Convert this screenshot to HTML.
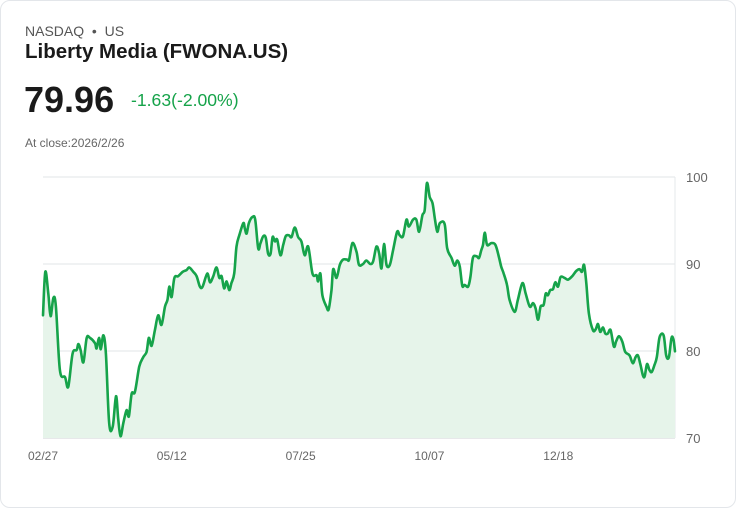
<!DOCTYPE html>
<html><head><meta charset="utf-8"><style>
html,body{margin:0;padding:0;background:#fff;}
body{width:736px;height:508px;position:relative;overflow:hidden;font-family:"Liberation Sans",sans-serif;}
.card{position:absolute;left:0;top:0;width:734px;height:506px;border:1px solid #e3e6ea;border-radius:10px;}
.t{position:absolute;white-space:nowrap;}
</style></head><body>
<div class="card"></div>
<div class="t" style="left:25px;top:23px;font-size:14px;color:#555;">NASDAQ &nbsp;•&nbsp; US</div>
<div class="t" style="left:25px;top:40px;font-size:20.5px;font-weight:bold;color:#1a1a1a;">Liberty Media (FWONA.US)</div>
<div class="t" style="left:24px;top:79px;font-size:36px;font-weight:bold;color:#1a1a1a;">79.96</div>
<div class="t" style="left:131px;top:90px;font-size:17.6px;color:#16a34a;">-1.63(-2.00%)</div>
<div class="t" style="left:25px;top:136px;font-size:12px;color:#666;">At close:2026/2/26</div>
<svg id="chart" width="736" height="508" style="position:absolute;left:0;top:0;"></svg>
<script>
const days=[0,0.9,2.1,3.0,4.1,5.1,6.7,8.7,10.0,11.7,13.3,14.0,14.9,16.0,17.3,18.6,20.6,21.2,22.2,22.9,23.9,24.9,26.2,27.6,28.9,29.8,30.7,31.8,33.1,34.0,35.1,36.4,38.1,39.7,41.0,41.9,43.0,44.3,45.6,46.9,48.3,49.3,50.0,50.9,52.0,53.5,55.3,56.8,57.9,59.5,60.8,62.1,63.2,65.0,66.1,67.4,68.7,69.8,70.7,71.7,72.7,73.7,74.6,75.7,76.6,77.7,79.3,79.9,80.6,81.5,82.9,84.0,85.2,86.1,87.2,88.2,89.1,90.1,90.9,91.8,92.7,94.0,95.1,96.1,97.4,98.4,99.7,101.0,102.3,103.6,105.0,106.7,108.3,108.9,109.8,110.6,112.2,113.1,114.2,114.9,116.2,117.5,118.8,120.4,121.2,122.5,124.1,125.1,126.7,128.0,129.6,130.7,132.0,133.1,134.0,135.0,136.0,137.3,138.6,140.2,141.2,142.5,143.9,144.8,146.5,147.8,148.9,150.2,151.1,152.0,153.1,154.2,155.2,156.1,157.1,159.0,160.0,161.7,163.0,164.0,165.0,166.0,166.9,168.3,169.2,170.2,171.6,172.6,173.5,174.2,174.9,175.8,177.5,179.1,180.5,181.4,182.4,183.7,184.7,186.7,188.0,189.8,191.1,192.7,194.0,195.0,196.0,197.0,198.2,199.0,199.9,200.8,201.9,202.8,203.9,204.9,206.5,207.8,209.5,211.1,212.4,213.4,214.2,215.1,216.1,217.7,218.8,219.7,220.6,221.7,222.6,223.6,224.7,226.0,226.9,228.0,229.3,230.5,232.2,233.5,234.6,235.5,236.4,237.5,238.2,239.1,240.1,241.0,242.1,243.0,244.1,245.7,246.7,247.8,248.8,249.6,250.2];
const prices=[84.1,89.1,86.6,84.0,86.1,85.1,77.8,77.0,75.9,79.7,80.1,80.8,80.1,78.7,81.5,81.5,80.9,80.3,81.5,80.2,81.8,79.7,71.7,71.3,74.8,72.1,70.2,71.7,73.2,72.5,75.1,75.3,78.2,79.3,79.9,81.5,80.6,82.4,84.1,83.0,85.1,85.9,87.4,86.2,88.4,88.6,89.1,89.3,89.6,89.1,88.6,87.4,87.4,88.9,87.9,88.6,89.6,88.4,88.6,87.2,88.0,87.0,87.8,88.9,92.0,93.3,94.7,94.1,93.5,94.7,95.4,95.1,91.8,92.4,93.2,93.0,91.2,91.2,93.1,92.6,92.8,91.0,92.2,93.2,93.3,93.1,94.2,93.1,92.6,91.0,92.0,88.9,88.7,88.0,88.9,86.4,85.1,84.8,87.0,89.4,88.4,89.9,90.5,90.5,90.5,92.4,91.4,89.9,90.0,90.4,90.0,90.3,92.0,91.2,89.5,92.3,89.9,89.9,91.6,93.7,93.3,93.2,95.1,94.3,95.1,95.1,93.7,95.6,96.2,99.3,97.7,97.0,95.1,93.7,94.7,94.6,91.8,90.7,89.8,90.4,89.7,87.5,87.6,87.4,88.5,90.7,90.9,90.7,91.6,92.2,93.6,92.2,92.4,92.2,90.8,89.7,88.9,87.6,85.9,84.5,85.9,87.8,86.6,85.1,85.5,84.9,83.6,85.1,85.3,86.6,86.4,87.0,87.1,87.9,87.4,88.5,88.4,88.2,88.6,89.2,89.4,89.1,89.9,87.8,84.3,82.4,82.5,83.1,82.2,82.7,82.0,82.0,82.4,80.5,81.1,81.7,81.1,79.9,79.5,78.6,79.3,79.5,78.6,77.2,77.1,78.5,77.8,77.6,78.4,79.3,81.6,81.8,79.5,79.3,81.5,81.3,79.96];
const yTicks=[70,80,90,100];
const xTickDays=[0,51,102,153,204];
const xTickLabels=["02/27","05/12","07/25","10/07","12/18"];

const svg=document.getElementById('chart');
const NS='http://www.w3.org/2000/svg';
const X0=43,X1=675,Y0=438,Y1=177;
const xs=d=>X0+(d-0)/(250.2-0)*(X1-X0);
const ys=v=>Y0-(v-70)/(100-70)*(Y0-Y1);
function mk(tag,attrs){const e=document.createElementNS(NS,tag);for(const k in attrs)e.setAttribute(k,attrs[k]);svg.appendChild(e);return e;}
yTicks.forEach(t=>{
  const l=mk('line',{x1:X0,x2:X1,y1:ys(t),y2:ys(t),stroke:t===70?'#cfd2d6':'#e2e4e7','stroke-width':1});
  
  
  const tx=mk('text',{x:686,y:ys(t)+5,'font-size':13,fill:'#666','font-family':'Liberation Sans, sans-serif'});
  tx.textContent=t;
  
  
});
const vl=mk('line',{x1:X1,x2:X1,y1:Y1,y2:Y0,stroke:'#e6e8eb','stroke-width':1});


xTickDays.forEach((d,i)=>{
  const tx=mk('text',{x:xs(d),y:460,'font-size':12,fill:'#666','text-anchor':'middle','font-family':'Liberation Sans, sans-serif'});
  tx.textContent=xTickLabels[i];
  
  
});
// smooth path via Catmull-Rom
const P=days.map((d,i)=>[xs(d),ys(prices[i])]);
let dPath='M'+P[0][0].toFixed(1)+','+P[0][1].toFixed(1);
for(let i=0;i<P.length-1;i++){
  const p0=P[i-1]||P[i],p1=P[i],p2=P[i+1],p3=P[i+2]||p2;
  const c1=[p1[0]+(p2[0]-p0[0])/6,p1[1]+(p2[1]-p0[1])/6];
  const c2=[p2[0]-(p3[0]-p1[0])/6,p2[1]-(p3[1]-p1[1])/6];
  dPath+=' C'+c1[0].toFixed(1)+','+c1[1].toFixed(1)+' '+c2[0].toFixed(1)+','+c2[1].toFixed(1)+' '+p2[0].toFixed(1)+','+p2[1].toFixed(1);
}
const area=mk('path',{d:dPath+' L'+P[P.length-1][0].toFixed(1)+','+Y0+' L'+P[0][0].toFixed(1)+','+Y0+' Z',fill:'#e6f4ea'});


const line=mk('path',{d:dPath,fill:'none',stroke:'#16a34a','stroke-width':2.6,'stroke-linejoin':'round','stroke-linecap':'round'});


</script>
</body></html>
